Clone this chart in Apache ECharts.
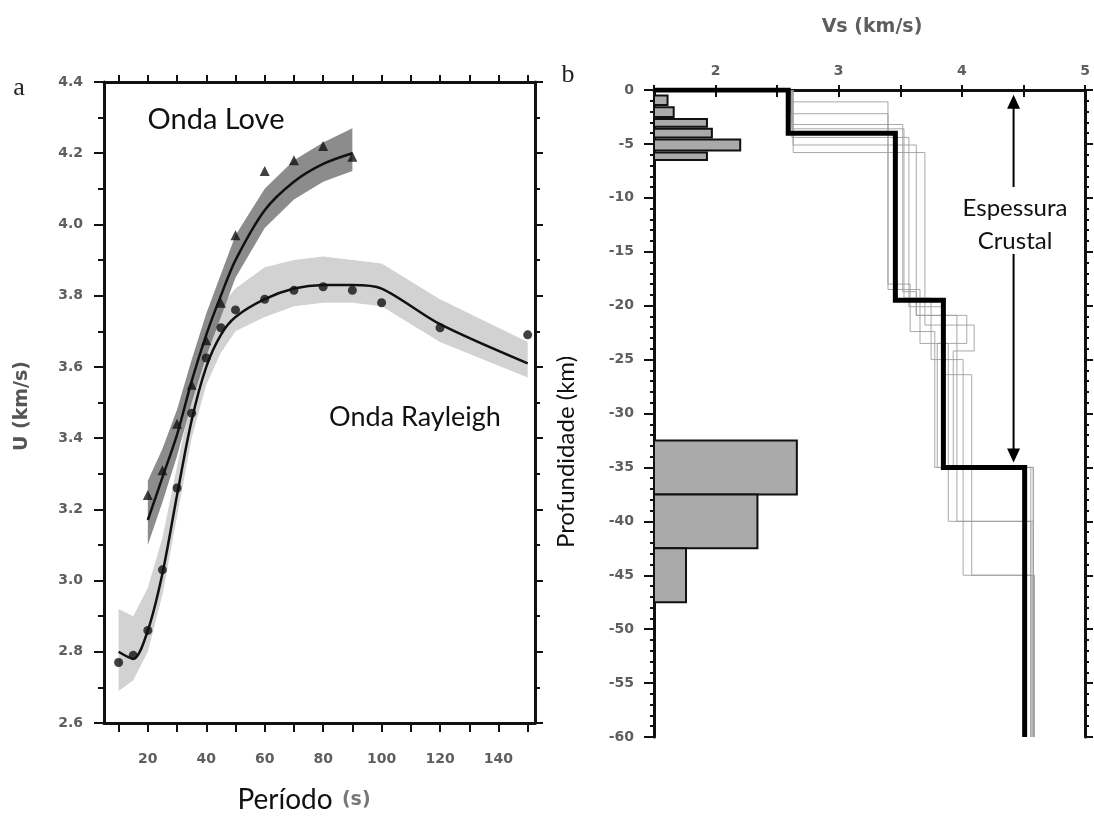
<!DOCTYPE html>
<html><head><meta charset="utf-8">
<script src="https://cdn.jsdelivr.net/npm/echarts@6/dist/echarts.min.js"></script>
<style>html,body{margin:0;padding:0;background:#fff}#c{width:1094px;height:816px}</style>
</head><body><div id="c"></div>
<script>
// ---------- Panel a: group velocity dispersion ----------
const xTickValues = [10,20,30,40,50,60,70,80,90,100,110,120,130,140,150];
const xLabelValues = [20,40,60,80,100,120,140];

const lovePeriods = [20,25,30,35,40,45,50,60,70,80,90];
const loveObs     = [3.24,3.31,3.44,3.55,3.675,3.78,3.97,4.15,4.18,4.22,4.19];
const loveFit     = [3.17,3.29,3.41,3.56,3.69,3.80,3.90,4.04,4.12,4.17,4.20];
const loveLow     = [3.10,3.22,3.35,3.50,3.63,3.74,3.85,3.99,4.07,4.12,4.15];
const loveHigh    = [3.28,3.37,3.48,3.62,3.75,3.86,3.97,4.10,4.18,4.23,4.27];

const rayPeriods = [10,15,20,25,30,35,40,45,50,60,70,80,90,100,120,150];
const rayObs     = [2.77,2.79,2.86,3.03,3.26,3.47,3.625,3.71,3.76,3.79,3.815,3.825,3.815,3.78,3.71,3.69];
const rayFit     = [2.80,2.78,2.86,3.02,3.24,3.45,3.60,3.69,3.74,3.79,3.82,3.83,3.83,3.82,3.72,3.61];
const rayLow     = [2.69,2.72,2.80,2.96,3.18,3.40,3.55,3.64,3.70,3.74,3.77,3.78,3.78,3.77,3.67,3.57];
const rayHigh    = [2.92,2.90,2.98,3.12,3.32,3.52,3.68,3.77,3.82,3.88,3.90,3.91,3.90,3.89,3.79,3.67];

// ---------- Panel b: shear velocity models ----------
const vsLabelValues = [2,3,4,5];
// [top depth, bottom depth, histogram length on Vs axis]
const shallowHist = [[-0.5,-1.4,1.61],[-1.6,-2.5,1.66],[-2.7,-3.4,1.93],[-3.6,-4.4,1.97],[-4.6,-5.6,2.20],[-5.8,-6.5,1.93]];
const mohoHist    = [[-32.5,-37.5,2.66],[-37.5,-42.5,2.34],[-42.5,-47.5,1.76]];
// layers: [Vs, bottom depth]
const bestModel = [[2.59,-4],[3.46,-19.5],[3.85,-35],[4.51,-60]];
const models = [
  [[2.61,-1.1],[3.40,-18.0],[3.58,-22.4],[3.78,-35],[4.58,-60]],
  [[2.61,-2.2],[3.40,-18.5],[3.66,-23.5],[3.89,-40],[4.58,-60]],
  [[2.62,-3.2],[3.52,-18.7],[3.63,-20.9],[3.96,-40],[4.56,-60]],
  [[2.62,-3.6],[3.53,-19.3],[3.75,-25.0],[4.01,-45],[4.59,-60]],
  [[2.62,-4.4],[3.57,-20.1],[3.85,-26.4],[4.08,-45],[4.57,-60]],
  [[2.63,-5.1],[3.63,-20.9],[4.04,-23.5],[3.80,-35],[4.58,-60]],
  [[2.63,-5.8],[3.70,-21.8],[4.10,-24.2],[3.93,-35],[4.56,-60]]
];
const arrowVs = 4.42;
const arrowTop = [-9.0, -1.1];
const arrowBottom = [-15.2, -33.9];

function stepLine(layers, startVs, startDepth){
  const pts = [];
  if (startVs !== undefined) pts.push([startVs, startDepth]);
  let top = 0;
  layers.forEach((l) => {
    pts.push([l[0], top]);
    pts.push([l[0], l[1]]);
    top = l[1];
  });
  return pts;
}
function band(xs, lo, hi, color){
  return {
    type:'custom', xAxisIndex:0, yAxisIndex:0, z:1, silent:true,
    data: xs.map((x,i)=>[x, lo[i], hi[i]]),
    encode:{x:0, y:[1,2]},
    renderItem: function(params, api){
      if (params.dataIndex !== 0) return;
      const pts = [];
      for (let i=0;i<xs.length;i++) pts.push(api.coord([xs[i], hi[i]]));
      for (let i=xs.length-1;i>=0;i--) pts.push(api.coord([xs[i], lo[i]]));
      return {type:'polygon', shape:{points:pts}, style:{fill:color}};
    }
  };
}
function hist(data){
  return {
    type:'custom', xAxisIndex:2, yAxisIndex:2, z:3, silent:true,
    data: data,
    encode:{x:2, y:[0,1]},
    renderItem: function(params, api){
      const p0 = api.coord([1.5, api.value(0)]);
      const p1 = api.coord([api.value(2), api.value(1)]);
      return {type:'rect', shape:{x:p0[0], y:p0[1], width:p1[0]-p0[0], height:p1[1]-p0[1]},
        style:{fill:'#aaaaaa', stroke:'#111', lineWidth:2}};
    }
  };
}

const tickFont = {color:'#5e5e5e', fontSize:14, fontWeight:'bold', fontFamily:'"DejaVu Sans", Verdana, sans-serif'};
const axisLine = {show:true, lineStyle:{color:'#111', width:3}};

const series = [];
series.push(band(rayPeriods, rayLow, rayHigh, 'rgba(195,195,195,0.75)'));
series.push(band(lovePeriods, loveLow, loveHigh, 'rgba(120,120,120,0.85)'));
series.push({type:'line', xAxisIndex:0, yAxisIndex:0, z:4, smooth:0.3, showSymbol:false,
  data: rayPeriods.map((x,i)=>[x, rayFit[i]]), lineStyle:{color:'#111', width:2.5}});
series.push({type:'line', xAxisIndex:0, yAxisIndex:0, z:4, smooth:0.3, showSymbol:false,
  data: lovePeriods.map((x,i)=>[x, loveFit[i]]), lineStyle:{color:'#111', width:2.5}});
series.push({type:'scatter', xAxisIndex:0, yAxisIndex:0, z:5, symbol:'circle', symbolSize:9,
  itemStyle:{color:'#111'}, data: rayPeriods.map((x,i)=>[x, rayObs[i]])});
series.push({type:'scatter', xAxisIndex:0, yAxisIndex:0, z:5, symbol:'triangle', symbolSize:10,
  itemStyle:{color:'#111'}, data: lovePeriods.map((x,i)=>[x, loveObs[i]])});

models.forEach(m => series.push({type:'line', xAxisIndex:2, yAxisIndex:2, z:2, showSymbol:false,
  data: stepLine(m), lineStyle:{color:'#9a9a9a', width:1, opacity:0.85}}));
series.push(hist(shallowHist));
series.push(hist(mohoHist));
series.push({type:'line', xAxisIndex:2, yAxisIndex:2, z:4, showSymbol:false,
  data: stepLine(bestModel, 1.5, 0), lineStyle:{color:'#000', width:5, join:'miter'}});
series.push({type:'line', xAxisIndex:2, yAxisIndex:2, z:5, lineStyle:{color:'#000', width:2},
  itemStyle:{color:'#000'},
  data:[{value:[arrowVs, arrowTop[0]], symbol:'none'},
        {value:[arrowVs, arrowTop[1]], symbol:'triangle', symbolSize:[13,14]}]});
series.push({type:'line', xAxisIndex:2, yAxisIndex:2, z:5, lineStyle:{color:'#000', width:2},
  itemStyle:{color:'#000'},
  data:[{value:[arrowVs, arrowBottom[0]], symbol:'none'},
        {value:[arrowVs, arrowBottom[1]], symbol:'triangle', symbolSize:[13,14], symbolRotate:180}]});

const chart = echarts.init(document.getElementById('c'), null, {renderer:'canvas'});
chart.setOption({
  animation:false,
  backgroundColor:'#fff',
  grid:[
    {left:104, top:82, width:431, height:641},
    {left:654, top:90, width:431, height:647}
  ],
  xAxis:[
    {type:'value', gridIndex:0, position:'bottom', min:5, max:152.5, axisLine,
      axisTick:{show:true, customValues:xTickValues, length:9, lineStyle:{color:'#111', width:2}},
      axisLabel:{show:true, customValues:xLabelValues, margin:29, ...tickFont},
      splitLine:{show:false}},
    {type:'value', gridIndex:0, position:'top', min:5, max:152.5, axisLine,
      axisTick:{show:true, customValues:xTickValues, length:7, lineStyle:{color:'#111', width:2}},
      axisLabel:{show:false}, splitLine:{show:false}},
    {type:'value', gridIndex:1, position:'top', min:1.5, max:5, interval:0.5, axisLine,
      axisTick:{show:true, length:5, lineStyle:{color:'#111', width:2}},
      axisLabel:{show:true, customValues:vsLabelValues, margin:12, showMaxLabel:true, ...tickFont},
      splitLine:{show:false}},
    {type:'value', gridIndex:1, position:'bottom', min:1.5, max:5, interval:0.5, axisLine,
      axisTick:{show:true, length:7, lineStyle:{color:'#111', width:2}},
      axisLabel:{show:false}, splitLine:{show:false}}
  ],
  yAxis:[
    {type:'value', gridIndex:0, position:'left', min:2.6, max:4.4, interval:0.2, axisLine,
      axisTick:{show:true, length:10, lineStyle:{color:'#111', width:2}},
      minorTick:{show:true, splitNumber:2, length:6, lineStyle:{color:'#111', width:2}},
      axisLabel:{show:true, margin:21, formatter:v=>v.toFixed(1), ...tickFont},
      splitLine:{show:false}},
    {type:'value', gridIndex:0, position:'right', min:2.6, max:4.4, interval:0.2, axisLine,
      axisTick:{show:true, length:8, lineStyle:{color:'#111', width:2}},
      minorTick:{show:true, splitNumber:2, length:5, lineStyle:{color:'#111', width:2}},
      axisLabel:{show:false}, splitLine:{show:false}},
    {type:'value', gridIndex:1, position:'left', min:-60, max:0, interval:5, axisLine,
      axisTick:{show:true, length:10, lineStyle:{color:'#111', width:2}},
      minorTick:{show:true, splitNumber:5, length:4, lineStyle:{color:'#111', width:2}},
      axisLabel:{show:true, margin:20, formatter:v=>String(v), ...tickFont},
      splitLine:{show:false}},
    {type:'value', gridIndex:1, position:'right', min:-60, max:0, interval:5, axisLine,
      axisTick:{show:true, length:8, lineStyle:{color:'#111', width:2}},
      minorTick:{show:true, splitNumber:5, length:4, lineStyle:{color:'#111', width:2}},
      axisLabel:{show:false}, splitLine:{show:false}}
  ],
  graphic:[
    {type:'text', x:19, y:88, style:{text:'a', font:'26px "Liberation Serif", "DejaVu Serif", serif', fill:'#222', align:'center', verticalAlign:'middle'}},
    {type:'text', x:568, y:75, style:{text:'b', font:'26px "Liberation Serif", "DejaVu Serif", serif', fill:'#222', align:'center', verticalAlign:'middle'}},
    {type:'text', x:216, y:120, z:10, style:{text:'Onda Love', font:'29px Lato, "Open Sans", sans-serif', fill:'#111', align:'center', verticalAlign:'middle'}},
    {type:'text', x:415, y:417, z:10, style:{text:'Onda Rayleigh', font:'27px Lato, "Open Sans", sans-serif', fill:'#111', align:'center', verticalAlign:'middle'}},
    {type:'text', x:22, y:406, rotation:Math.PI/2, style:{text:'U (km/s)', font:'bold 19px "DejaVu Sans", Verdana, sans-serif', fill:'#555', align:'center', verticalAlign:'middle'}},
    {type:'text', x:304, y:800, style:{text:'{a|Período} {b|(s)}', align:'center', verticalAlign:'middle',
      rich:{a:{font:'28px Lato, "Open Sans", sans-serif', fill:'#111'}, b:{font:'bold 19px "DejaVu Sans", Verdana, sans-serif', fill:'#777', padding:[0,0,0,6]}}}},
    {type:'text', x:872, y:27, style:{text:'Vs (km/s)', font:'bold 19px "DejaVu Sans", Verdana, sans-serif', fill:'#5e5e5e', align:'center', verticalAlign:'middle'}},
    {type:'text', x:566, y:452, rotation:Math.PI/2, style:{text:'Profundidade (km)', font:'24px Lato, "Open Sans", sans-serif', fill:'#111', align:'center', verticalAlign:'middle'}},
    {type:'text', x:1015, y:208, z:10, style:{text:'Espessura', font:'24px Lato, "Open Sans", sans-serif', fill:'#111', align:'center', verticalAlign:'middle'}},
    {type:'text', x:1015, y:241, z:10, style:{text:'Crustal', font:'24px Lato, "Open Sans", sans-serif', fill:'#111', align:'center', verticalAlign:'middle'}}
  ],
  series
});
</script></body></html>
